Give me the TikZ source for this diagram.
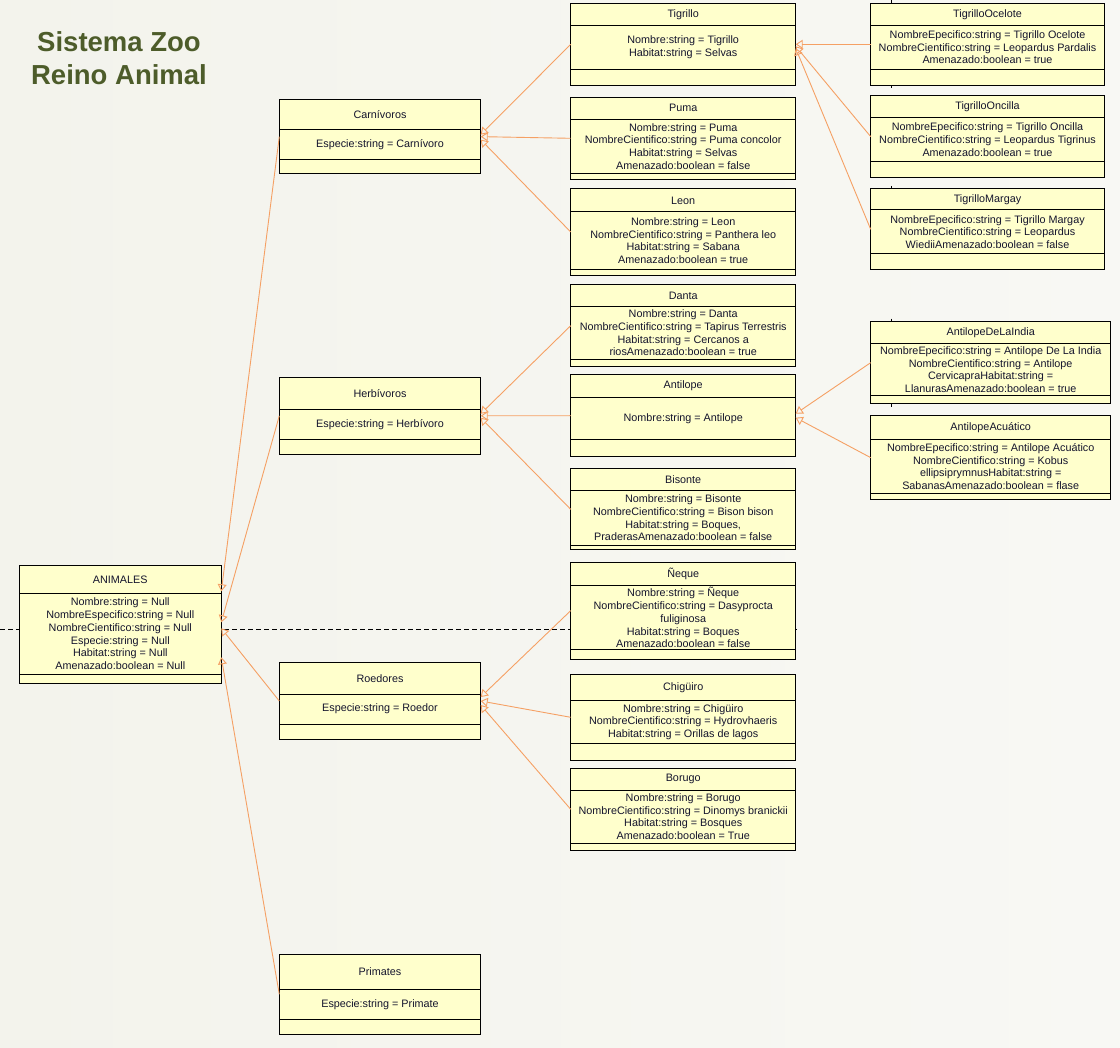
\documentclass[tikz,border=0pt]{standalone}
\usepackage{fontspec}
\setmainfont{Liberation Sans}
\usetikzlibrary{arrows.meta}

\definecolor{fondo}{RGB}{243,243,236}
\definecolor{fondoclaro}{RGB}{248,248,244}
\definecolor{amarillo}{RGB}{255,255,204}
\definecolor{naranja}{RGB}{245,160,100}
\definecolor{tinta}{RGB}{20,20,45}
\definecolor{oliva}{RGB}{77,92,42}

\tikzset{
	clase/.style={draw=black, line width=1pt, fill=amarillo, inner sep=0pt, outer sep=0pt, anchor=north west},
	divisor/.style={draw=black, line width=1pt},
	texto/.style={inner sep=0pt, align=center, text=tinta, font=\fontsize{10.8}{12.7}\selectfont},
	hereda/.style={draw=naranja, line width=0.9pt, -{Triangle[open, length=7pt, width=9pt]}},
	titulo/.style={inner sep=0pt, align=center, text=oliva, font=\fontsize{27.5}{33.3}\selectfont\bfseries}
}

% #1 name, #2 x, #3 y top, #4 width, #5 head height, #6 attr height, #7 total height, #8 title, #9 attributes
\newcommand{\clase}[9]{%
	\node[clase, minimum width=#4, minimum height=#7] (#1) at (#2,#3) {};
	\draw[divisor] (#2,{#3+#5}) -- ++(#4,0);
	\draw[divisor] (#2,{#3+#5+#6}) -- ++(#4,0);
	\node[texto] (#1-t) at ({#2+#4/2},{#3+#5/2}) {#8};
	\node[texto] (#1-a) at ({#2+#4/2},{#3+#5+#6/2}) {#9};
}

\begin{document}
\begin{tikzpicture}[x=1pt, y=-1pt]
	\useasboundingbox (0,0) rectangle (1120,1048);
	\shade[left color=fondo, right color=fondoclaro] (0,0) rectangle (1120,1048);
	
	\node[titulo] (titulo) at (119,58.5) {Sistema Zoo\\Reino Animal};
	
	% page borders
	\draw[line width=0.8pt, dash pattern=on 5pt off 3pt] (0,629) -- (797,629);
	\draw[line width=0.8pt] (891,0) -- (891,3.3) (891,85.3) -- (891,88) (891,186) -- (891,188.7)
		(891,318.6) -- (891,321.3) (891,404) -- (891,406.7);
	
	\clase{animales}{19.3}{565.3}{202}{28}{81}{118}{ANIMALES}{Nombre:string = Null\\NombreEspecifico:string = Null\\NombreCientifico:string = Null\\Especie:string = Null\\Habitat:string = Null\\Amenazado:boolean = Null}
	
	\clase{carnivoros}{279.3}{99.3}{201.4}{30}{30}{74.7}{Carnívoros}{Especie:string = Carnívoro}
	\clase{herbivoros}{279.3}{377.3}{201.4}{32}{30}{77}{Herbívoros}{Especie:string = Herbívoro}
	\clase{roedores}{279.3}{662.7}{201.4}{31.6}{29.7}{76.6}{Roedores}{Especie:string = Roedor}
	\clase{primates}{279.3}{954.3}{201.4}{35}{30}{80}{Primates}{Especie:string = Primate}
	
	\clase{tigrillo}{570.7}{3.3}{225}{22}{44}{82}{Tigrillo}{Nombre:string = Tigrillo\\Habitat:string = Selvas}
	\clase{puma}{570.7}{97.3}{225}{22}{54}{82}{Puma}{Nombre:string = Puma\\NombreCientifico:string = Puma concolor\\Habitat:string = Selvas\\Amenazado:boolean = false}
	\clase{leon}{570.7}{188.7}{225}{23.3}{57.3}{86.6}{Leon}{Nombre:string = Leon\\NombreCientifico:string = Panthera leo\\Habitat:string = Sabana\\Amenazado:boolean = true}
	\clase{danta}{570.7}{284.7}{225}{22}{52.6}{82}{Danta}{Nombre:string = Danta\\NombreCientifico:string = Tapirus Terrestris\\Habitat:string = Cercanos a\\riosAmenazado:boolean = true}
	\clase{antilope}{570.7}{374.7}{225}{22.6}{42.7}{82}{Antilope}{Nombre:string = Antilope}
	\clase{bisonte}{570.7}{468.7}{225}{22}{54.6}{81.3}{Bisonte}{Nombre:string = Bisonte\\NombreCientifico:string = Bison bison\\Habitat:string = Boques,\\PraderasAmenazado:boolean = false}
	\clase{neque}{570.7}{562.3}{225}{23.4}{64}{96.7}{Ñeque}{Nombre:string = Ñeque\\NombreCientifico:string = Dasyprocta\\fuliginosa\\Habitat:string = Boques\\Amenazado:boolean = false}
	\clase{chiguiro}{570.7}{674.3}{225}{26}{43.4}{86}{Chigüiro}{Nombre:string = Chigüiro\\NombreCientifico:string = Hydrovhaeris\\Habitat:string = Orillas de lagos}
	\clase{borugo}{570.7}{768.3}{225}{22}{52.7}{82}{Borugo}{Nombre:string = Borugo\\NombreCientifico:string = Dinomys branickii\\Habitat:string = Bosques\\Amenazado:boolean = True}
	
	\clase{ocelote}{870.7}{3.3}{233.6}{22}{44}{82}{TigrilloOcelote}{NombreEpecifico:string = Tigrillo Ocelote\\NombreCientifico:string = Leopardus Pardalis\\Amenazado:boolean = true}
	\clase{oncilla}{870.7}{95.3}{233.6}{22.7}{43.3}{82.7}{TigrilloOncilla}{NombreEpecifico:string = Tigrillo Oncilla\\NombreCientifico:string = Leopardus Tigrinus\\Amenazado:boolean = true}
	\clase{margay}{870.7}{188.7}{233.6}{21.3}{44}{81.3}{TigrilloMargay}{NombreEpecifico:string = Tigrillo Margay\\NombreCientifico:string = Leopardus\\WiediiAmenazado:boolean = false}
	\clase{antindia}{870.7}{321.3}{240}{22.7}{51.3}{82.7}{AntilopeDeLaIndia}{NombreEpecifico:string = Antilope De La India\\NombreCientifico:string = Antilope\\CervicapraHabitat:string =\\LlanurasAmenazado:boolean = true}
	\clase{antacuatico}{870.7}{416}{240}{23.3}{54.7}{83.3}{AntilopeAcuático}{NombreEpecifico:string = Antilope Acuático\\NombreCientifico:string = Kobus\\ellipsiprymnusHabitat:string =\\SabanasAmenazado:boolean = flase}
	
	% herencia
	\draw[hereda] (carnivoros.west) -- ([yshift=33pt]animales.east);
	\draw[hereda] (herbivoros.west) -- ([yshift=2pt]animales.east);
	\draw[hereda] (roedores.west) -- ([yshift=-4pt]animales.east);
	\draw[hereda] (primates.west) -- ([yshift=-33pt]animales.east);
	
	\draw[hereda] (tigrillo.west) -- ([yshift=2pt]carnivoros.east);
	\draw[hereda] (puma.west) -- (carnivoros.east);
	\draw[hereda] (leon.west) -- ([yshift=-3pt]carnivoros.east);
	
	\draw[hereda] (danta.west) -- ([yshift=2pt]herbivoros.east);
	\draw[hereda] (antilope.west) -- (herbivoros.east);
	\draw[hereda] (bisonte.west) -- ([yshift=-2pt]herbivoros.east);
	
	\draw[hereda] (neque.west) -- ([yshift=4pt]roedores.east);
	\draw[hereda] (chiguiro.west) -- (roedores.east);
	\draw[hereda] (borugo.west) -- ([yshift=-4pt]roedores.east);
	
	\draw[hereda] (ocelote.west) -- (tigrillo.east);
	\draw[hereda] (oncilla.west) -- ([yshift=-2pt]tigrillo.east);
	\draw[hereda] (margay.west) -- ([yshift=-4pt]tigrillo.east);
	
	\draw[hereda] (antindia.west) -- ([yshift=2pt]antilope.east);
	\draw[hereda] (antacuatico.west) -- ([yshift=-2pt]antilope.east);
\end{tikzpicture}
\end{document}
